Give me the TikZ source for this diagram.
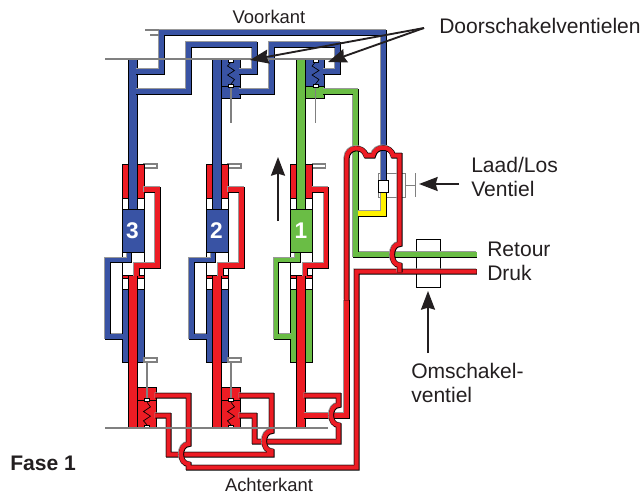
\documentclass[tikz,border=0pt]{standalone}
\usepackage{fontspec}
\setmainfont{Liberation Sans}
\usepackage{tikz}
\usetikzlibrary{arrows.meta}
\definecolor{blauw}{HTML}{3953A4}
\definecolor{rood}{HTML}{ED1C24}
\definecolor{groen}{HTML}{6ABD45}
\definecolor{geel}{HTML}{FFF200}
\definecolor{inkt}{HTML}{231F20}
\tikzset{
    pijp/.style={draw=#1, line width=3.2pt,
        preaction={draw=gray!80, line width=4pt, transform canvas={xshift=-.3pt, yshift=.3pt}},
        preaction={draw=black, line width=4pt, transform canvas={xshift=.3pt, yshift=-.3pt}}},
    wand/.style={draw=black, line width=.55pt},
    lip/.style={draw=gray, fill=white, line width=.8pt},
    stang/.style={draw=gray, line width=.9pt},
    veer/.style={draw=black, line width=.5pt},
    pijl/.style={draw=inkt, line width=1.4pt, -{Stealth[length=14pt, width=10.5pt, inset=1.5pt]}},
    tekst/.style={inner sep=0pt, anchor=west, text=inkt, font=\fontsize{15.8}{18}\selectfont, align=left},
    klein/.style={inner sep=0pt, text=inkt, font=\fontsize{13.8}{16}\selectfont},
    nummer/.style={inner sep=0pt, text=white, font=\bfseries\fontsize{17}{18}\selectfont}
}
% x, kleur, nummer
\newcommand{\cilinder}[3]{
    \begin{scope}[shift={(#1,0)}]
        \draw[lip] (11.5,164) rectangle (24.5,168);
        \draw[wand, fill=white] (-10.5,164) rectangle (11.5,362);
        \draw[wand, fill=rood] (-10.5,164) rectangle (-4.5,198);
        \draw[wand, fill=rood] (4.5,164) rectangle (11.5,198);
        \draw[wand, fill=#2] (-4.5,59) rectangle (4.5,209.5);
        \draw[wand, fill=#2] (-10.5,209.5) rectangle (11.5,252);
        \node[nummer] (nummer#3) at (0,231) {#3};
        \draw[wand, fill=white] (-10.5,252) rectangle (-6.5,258);
        \draw[wand, fill=#2] (-10.5,289) rectangle (-4.5,362);
        \draw[wand, fill=#2] (4.5,289) rectangle (11.5,362);
        \draw[wand, fill=rood] (-10.5,275) rectangle (11.5,278);
        \draw[wand, fill=rood] (-4.5,275) rectangle (4.5,428);
        \draw[pijp=#2] (-10,336.5) -- (-25,336.5) -- (-25,260) -- (-3.5,260) -- (-3.5,253);
        \draw[pijp=rood] (11,189.5) -- (25,189.5) -- (25,265.5) -- (4,265.5) -- (4,276);
    \end{scope}
}
% x, y van de wand, richting, kleur veer, kleur staart
\newcommand{\klep}[5]{
    \begin{scope}[shift={(#1,#2)}, yscale=#3]
        \draw[wand, fill=#5] (4.5,27) rectangle (23.5,39);
        \draw[wand, fill=#4] (4.5,0) rectangle (23.5,27);
        \draw[stang] (14.5,27) -- (14.5,64);
        \draw[veer] (14.5,3) -- (11,7) -- (18,11.5) -- (11,16) -- (18,20.5) -- (14.5,25);
        \draw[draw=black, fill=white, line width=.4pt] (12,0) rectangle (17,3);
        \draw[draw=black, fill=white, line width=.4pt] (12,25.5) rectangle (17,28.5);
    \end{scope}
}

\begin{document}
\begin{tikzpicture}[x=.75pt, y=-.75pt]
    \useasboundingbox (0,0) rectangle (642,496);

    \coordinate (bron) at (424,28);
    \coordinate (klepA) at (250,60);
    \coordinate (klepB) at (328,62);
    \coordinate (pijlStart) at (278,221);
    \coordinate (pijlEind) at (278,157);
    \coordinate (laadStart) at (459,184);
    \coordinate (laadEind) at (419,184);
    \coordinate (omStart) at (428,353);
    \coordinate (omEind) at (428,291);

    % cilinders en kleppen
    \cilinder{132.5}{blauw}{3}
    \cilinder{216.5}{blauw}{2}
    \cilinder{301}{groen}{1}
    \klep{216.5}{59}{1}{blauw}{blauw}
    \klep{301}{59}{1}{blauw}{groen}
    \klep{132.5}{428}{-1.03}{rood}{rood}
    \klep{216.5}{428}{-1.03}{rood}{rood}
    \draw[lip] (144,358) rectangle (157,362);
    \draw[lip] (228,358) rectangle (241,362);
    \draw[wand, fill=white] (416,239) rectangle (440,287);
    \draw[stang, line width=.7pt] (378,173) rectangle (405,197);
    \draw[stang, line width=.7pt] (405,185) -- (415,185);
    \draw[stang, line width=.7pt] (415,173) -- (415,197);

    % blauw, groen en geel
    \draw[pijp=blauw] (383.5,181) -- (383.5,32.5) -- (161.5,32.5) -- (161.5,71.5) -- (136,71.5);
    \draw[pijp=blauw] (136,91.5) -- (188.5,91.5) -- (188.5,44.5) -- (254.5,44.5) -- (254.5,71.5) -- (239,71.5);
    \draw[pijp=blauw] (239,91.5) -- (271.5,91.5) -- (271.5,44.5) -- (337.5,44.5) -- (337.5,71.5) -- (323,71.5);
    \draw[pijp=groen] (323,91.5) -- (355.5,91.5) -- (355.5,254.5) -- (476.5,254.5);
    \draw[pijp=geel] (383.5,191) -- (383.5,213.5) -- (358,213.5);
    \draw[wand, fill=white] (378,180) rectangle (388,192);

    % rood
    \draw[pijp=rood] (304,415.5) -- (346.5,415.5) -- (346.5,300);
    \draw[pijp=rood] (239,415.5) -- (254.5,415.5) -- (254.5,441.5) -- (338.5,441.5) -- (338.5,425)
        .. controls (328.5,425) and (328.5,405) .. (338.5,405) -- (338.5,395.5) -- (304,395.5);
    \draw[pijp=rood] (155,415.5) -- (168.5,415.5) -- (168.5,454.5) -- (271.5,454.5) -- (271.5,451)
        .. controls (261.5,451) and (261.5,431) .. (271.5,431) -- (271.5,395.5) -- (239,395.5);
    \draw[pijp=rood] (155,395.5) -- (188.5,395.5) -- (188.5,444)
        .. controls (178.5,444) and (178.5,464) .. (188.5,464) -- (188.5,467.5) -- (356.5,467.5)
        -- (356.5,271.5) -- (476.5,271.5);
    \draw[pijp=rood] (346.5,300) -- (346.5,158) .. controls (347,146) and (363,145) .. (366,155.5)
        -- (373,155.5) .. controls (375,145) and (391,145) .. (393,155.5) -- (399.5,155.5) -- (399.5,244)
        .. controls (389.5,244) and (389.5,265) .. (399.5,265) -- (399.5,272);

    \draw[stang] (105,59) -- (333,59);
    \draw[stang] (105,428) -- (328,428);
    \draw[stang] (145,30) -- (159,30);
    \draw[stang] (150,35) -- (159,35);

    % teksten
    \node[klein] (voorkant) at (269,17) {Voorkant};
    \node[klein] (achterkant) at (269,485) {Achterkant};
    \node[tekst] (doorschakel) at (439,26) {Doorschakelventielen};
    \node[tekst] (laadlos) at (471,177) {Laad/Los\\Ventiel};
    \node[tekst] (retour) at (487,249) {Retour};
    \node[tekst] (druk) at (487,273) {Druk};
    \node[tekst] (omschakel) at (411,383) {Omschakel-\\ventiel};
    \node[tekst, font=\bfseries\fontsize{15.8}{18}\selectfont] (fase) at (10,463) {Fase 1};

    % pijlen
    \draw[pijl] (bron) -- (klepA);
    \draw[pijl] (bron) -- (klepB);
    \draw[pijl] (pijlStart) -- (pijlEind);
    \draw[pijl] (laadStart) -- (laadEind);
    \draw[pijl] (omStart) -- (omEind);
\end{tikzpicture}
\end{document}
